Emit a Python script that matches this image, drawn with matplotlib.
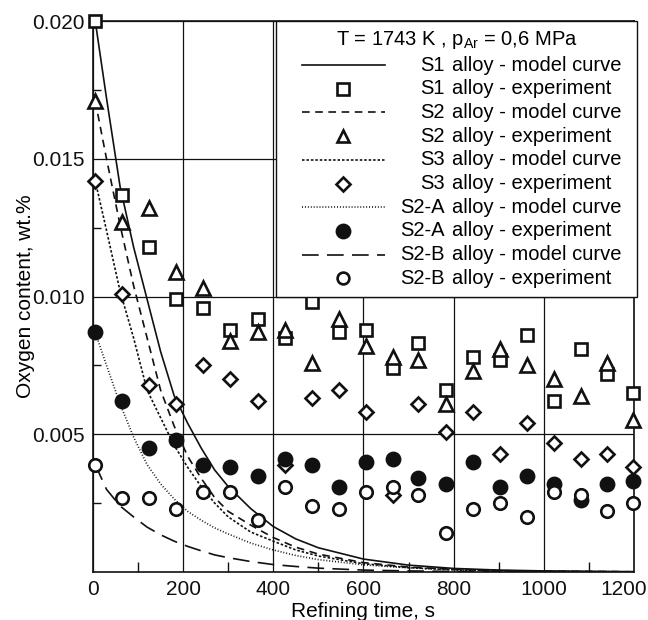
import matplotlib
matplotlib.use('Agg')
import matplotlib.pyplot as plt
from matplotlib.ticker import FixedLocator, FixedFormatter, MultipleLocator, FormatStrFormatter
from matplotlib.patches import Rectangle

plt.rcParams['font.family'] = ['Liberation Sans', 'DejaVu Sans']
plt.rcParams['mathtext.fontset'] = 'custom'
plt.rcParams['mathtext.rm'] = 'Liberation Sans'
plt.rcParams['lines.scale_dashes'] = False

# experimental points (refining time, s / oxygen, wt.%)
time_exp = [5, 65, 125, 185, 245, 305, 365, 425, 485, 545, 605, 665, 722, 783,
            842, 902, 962, 1022, 1082, 1141, 1198]
s1_exp = [0.0200, 0.0137, 0.0118, 0.0099, 0.0096, 0.0088, 0.0092, 0.0085, 0.0098, 0.0087, 0.0088,
          0.0074, 0.0083, 0.0066, 0.0078, 0.0077, 0.0086, 0.0062, 0.0081, 0.0072, 0.0065]
s2_exp = [0.0171, 0.0127, 0.0132, 0.0109, 0.0103, 0.0084, 0.0087, 0.0088, 0.0076, 0.0092, 0.0082,
          0.0078, 0.0077, 0.0061, 0.0073, 0.0081, 0.0075, 0.0070, 0.0064, 0.0076, 0.0055]
s3_exp = [0.0142, 0.0101, 0.0068, 0.0061, 0.0075, 0.0070, 0.0062, 0.0039, 0.0063, 0.0066, 0.0058,
          0.0028, 0.0061, 0.0051, 0.0058, 0.0043, 0.0054, 0.0047, 0.0041, 0.0043, 0.0038]
s2a_exp = [0.0087, 0.0062, 0.0045, 0.0048, 0.0039, 0.0038, 0.0035, 0.0041, 0.0039, 0.0031, 0.0040,
           0.0041, 0.0034, 0.0032, 0.0040, 0.0031, 0.0035, 0.0032, 0.0026, 0.0032, 0.0033]
s2b_exp = [0.0039, 0.0027, 0.0027, 0.0023, 0.0029, 0.0029, 0.0019, 0.0031, 0.0024, 0.0023, 0.0029,
           0.0031, 0.0028, 0.0014, 0.0023, 0.0025, 0.0020, 0.0029, 0.0028, 0.0022, 0.0025]

# model curves
time_model = [5, 30, 60, 90, 120, 150, 180, 210, 240, 270, 300, 350, 400, 450, 500,
              600, 700, 800, 900, 1000, 1200]
s1_model = [0.0200, 0.0172, 0.0140, 0.0118, 0.0099, 0.0080, 0.0064, 0.0054, 0.0045, 0.0037, 0.0031,
            0.0023, 0.00165, 0.0012, 0.00088, 0.00047, 0.00025, 0.00013, 0.00007, 0.00004, 0.00001]
s2_model = [0.0171, 0.0150, 0.0126, 0.0104, 0.0085, 0.0066, 0.0053, 0.0042, 0.0034, 0.0027, 0.0022,
            0.0017, 0.00125, 0.0009, 0.00065, 0.00034, 0.00018, 0.0001, 0.00005, 0.00003, 0.00001]
s3_model = [0.0142, 0.0124, 0.0102, 0.0085, 0.0066, 0.0056, 0.0046, 0.0038, 0.0031, 0.0025, 0.0020,
            0.00145, 0.00112, 0.0008, 0.00058, 0.0003, 0.00016, 0.00008, 0.00004, 0.00002, 0.000005]
s2a_model = [0.0087, 0.0075, 0.0061, 0.0049, 0.0039, 0.0032, 0.00265, 0.0022, 0.00188, 0.0016, 0.00138,
             0.00105, 0.0008, 0.0006, 0.00045, 0.00026, 0.00015, 0.00008, 0.00005, 0.00003, 0.00001]
s2b_model = [0.0039, 0.0030, 0.0024, 0.0020, 0.00163, 0.00135, 0.00112, 0.00093, 0.00077, 0.00062, 0.00052,
             0.00038, 0.00027, 0.0002, 0.00014, 0.00007, 0.00004, 0.00002, 0.00001, 0.000005, 0.0]

x_ticks = [0, 200, 400, 600, 800, 1000, 1200]
x_ticklabels = ['0', '200', '400', '600', '800', '1000', '1200']

k = '#111111'
ls_s1 = '-'
ls_s2 = (0, (5.5, 4))
ls_s3 = (0, (1.8, 1.4))
ls_s2a = (0, (0.7, 1.4))
ls_s2b = (0, (12, 6))

fig = plt.figure(figsize=(6.48, 6.2), dpi=100)
ax = fig.add_axes([0.1435, 0.0774, 0.8349, 0.8887])

for yy, ls in [(s1_model, ls_s1), (s2_model, ls_s2), (s3_model, ls_s3),
               (s2a_model, ls_s2a), (s2b_model, ls_s2b)]:
    ax.plot(time_model, yy, color=k, lw=1.2, ls=ls, zorder=3)

mk = dict(color=k, ls='none', mew=1.9, clip_on=False, zorder=4)
ax.plot(time_exp, s1_exp, marker='s', ms=8.5, mfc='white', **mk)
ax.plot(time_exp, s2_exp, marker='^', ms=9.5, mfc='white', **mk)
ax.plot(time_exp, s3_exp, marker='D', ms=7.5, mfc='white', **mk)
ax.plot(time_exp, s2a_exp, marker='o', ms=9.5, mfc=k, **mk)
ax.plot(time_exp, s2b_exp, marker='o', ms=9, mfc='white', **mk)

ax.set_xlim(0, 1200)
ax.set_ylim(0, 0.020)
ax.xaxis.set_major_locator(FixedLocator(x_ticks))
# the last label is placed by hand a bit left of its tick, as in the source
ax.xaxis.set_major_formatter(FixedFormatter(x_ticklabels[:-1] + ['']))
ax.xaxis.set_minor_locator(FixedLocator([100, 300, 500, 700, 900, 1100]))
ax.yaxis.set_major_locator(FixedLocator([0.005, 0.010, 0.015, 0.020]))
ax.yaxis.set_minor_locator(FixedLocator([0.0025, 0.0075, 0.0125, 0.0175]))
ax.yaxis.set_major_formatter(FormatStrFormatter('%.3f'))
ax.tick_params(which='major', length=0, labelsize=15, pad=6, colors=k)
ax.tick_params(axis='x', which='minor', direction='in', length=7, width=1, colors=k)
ax.tick_params(axis='y', which='minor', direction='in', length=6, width=1, colors=k)
ax.grid(True, which='major', color=k, lw=0.9)
ax.set_axisbelow(True)
for sp in ax.spines.values():
    sp.set_linewidth(1.2)
    sp.set_color(k)

ax.annotate(x_ticklabels[-1], xy=(x_ticks[-1], 0), xycoords=ax.get_xaxis_transform(),
            xytext=(-7.5, -6), textcoords='offset points', ha='center', va='top',
            fontsize=15, color=k)

ax.set_xlabel('Refining time, s', fontsize=15, labelpad=2)
ax.set_ylabel('Oxygen content, wt.%', fontsize=15, labelpad=-2)

# legend box drawn by hand so that "alloy" lines up in every row
box = Rectangle((0.338, 0.499), 0.668, 0.501, transform=ax.transAxes, facecolor='white',
                edgecolor=k, lw=1.0, zorder=5, clip_on=False)
ax.add_patch(box)
ax.text(0.672, 0.966, 'T = 1743 K , p$_{\\rm Ar}$ = 0,6 MPa', transform=ax.transAxes,
        ha='center', va='center', fontsize=14.5, zorder=6)

rows = [
    ('S1', 'model curve', dict(ls=ls_s1)),
    ('S1', 'experiment', dict(marker='s', ms=8, mfc='white')),
    ('S2', 'model curve', dict(ls=ls_s2)),
    ('S2', 'experiment', dict(marker='^', ms=9, mfc='white')),
    ('S3', 'model curve', dict(ls=ls_s3)),
    ('S3', 'experiment', dict(marker='D', ms=7, mfc='white')),
    ('S2-A', 'model curve', dict(ls=ls_s2a)),
    ('S2-A', 'experiment', dict(marker='o', ms=9.5, mfc=k)),
    ('S2-B', 'model curve', dict(ls=ls_s2b)),
    ('S2-B', 'experiment', dict(marker='o', ms=8.5, mfc='white')),
]
y0 = 0.920
dy = 0.0430
for i, (name, what, st) in enumerate(rows):
    y = y0 - i * dy
    if 'marker' in st:
        ax.plot([0.4627], [y], transform=ax.transAxes, color=k, ls='none', mew=1.9,
                clip_on=False, zorder=6, **st)
    else:
        ax.plot([0.386, 0.540], [y, y], transform=ax.transAxes, color=k, lw=1.2,
                clip_on=False, zorder=6, **st)
    ax.text(0.650, y, name, transform=ax.transAxes, ha='right', va='center',
            fontsize=14.5, zorder=6)
    ax.text(0.663, y, 'alloy - ' + what, transform=ax.transAxes, ha='left', va='center',
            fontsize=14.5, zorder=6)

fig.savefig('out.png', dpi=100)
